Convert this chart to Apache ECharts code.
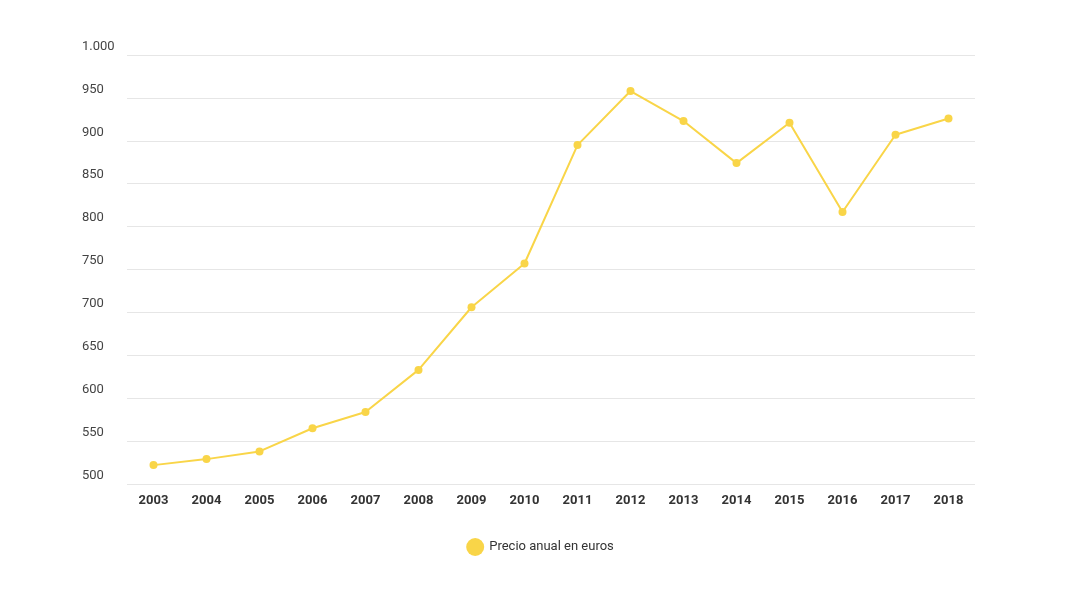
<!DOCTYPE html>
<html>
<head>
<meta charset="utf-8">
<script src="https://cdn.jsdelivr.net/npm/echarts@6/dist/echarts.min.js"></script>
<style>
  html, body { margin: 0; padding: 0; background: #fff; }
  #chart { width: 1080px; height: 607px; }
</style>
</head>
<body>
<div id="chart"></div>
<script>
const years = ['2003', '2004', '2005', '2006', '2007', '2008', '2009', '2010',
               '2011', '2012', '2013', '2014', '2015', '2016', '2017', '2018'];
const precio = [522, 529, 538, 565, 584, 633, 706, 757, 895, 958, 923, 874, 921, 817, 907, 926];
const seriesName = 'Precio anual en euros';

const chart = echarts.init(document.getElementById('chart'));

chart.setOption({
    animation: false,
    grid: { left: 127, right: 105, top: 55, bottom: 123 },
    legend: {
        bottom: 46,
        left: 'center',
        icon: 'circle',
        itemWidth: 18,
        itemHeight: 18,
        textStyle: { color: '#333', fontSize: 13, fontFamily: 'Roboto' },
        data: [seriesName]
    },
    xAxis: {
        type: 'category',
        data: years,
        boundaryGap: true,
        axisLine: { show: false },
        axisTick: { show: false },
        axisLabel: { color: '#333', fontSize: 13, fontWeight: 'bold', fontFamily: 'Roboto', margin: 10 }
    },
    yAxis: {
        type: 'value',
        min: 500,
        max: 1000,
        interval: 50,
        axisLine: { show: false },
        axisTick: { show: false },
        splitLine: { lineStyle: { color: '#e6e6e6' } },
        axisLabel: {
            color: '#444',
            fontSize: 13,
            fontFamily: 'Roboto',
            align: 'left',
            verticalAlign: 'bottom',
            margin: 45,
            padding: [0, 0, 2, 0],
            formatter: v => v === 1000 ? '1.000' : String(v)
        }
    },
    series: [{
        name: seriesName,
        type: 'line',
        data: precio,
        symbol: 'circle',
        symbolSize: 8,
        itemStyle: { color: '#f9d548' },
        lineStyle: { color: '#f9d548', width: 2 }
    }]
});
</script>
</body>
</html>
